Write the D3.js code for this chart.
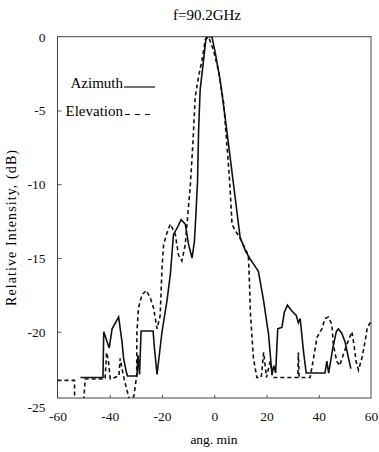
<!DOCTYPE html>
<html>
<head>
<meta charset="utf-8">
<script src="https://cdn.jsdelivr.net/npm/d3@7"></script>
<style>
  body { margin: 0; background: #fff; }
</style>
</head>
<body>
<svg id="chart" width="379" height="452"></svg>
<script>
// values (ang. min, dB)
const title = "f=90.2GHz";
const xTicks = [-60, -40, -20, 0, 20, 40, 60];
const yTicks = [0, -5, -10, -15, -20, -25];

const azX = [-51.2, -42.6, -42.3, -40.2, -39.1, -36.6, -35.3, -34.7, -33.7, -33.2,
  -29.6, -29.2, -28.6, -28.0, -23.4, -22.9, -21.9, -20.0, -18.1, -16.8,
  -15.6, -14.3, -12.7, -11.1, -9.8, -8.5, -7.6, -7.0, -6.4, -6.0,
  -5.4, -4.1, -3.1, -0.9, 0.4, 2.3, 4.2, 6.1, 8.0, 9.9,
  11.9, 13.5, 15.0, 16.9, 18.9, 20.8, 22.1, 22.8, 23.5, 24.3,
  25.9, 26.8, 28.0, 29.7, 31.4, 32.2, 32.9, 34.2, 35.2, 42.4,
  43.1, 43.8, 45.4, 46.7, 47.5, 48.8, 50.1, 51.4, 52.3];
const azY = [-23.1, -23.1, -20.0, -21.1, -19.8, -19.0, -20.7, -21.8, -22.7, -23.0,
  -23.0, -21.6, -22.9, -19.95, -19.95, -21.1, -22.9, -20.0, -17.9, -16.1,
  -13.4, -13.0, -12.4, -12.7, -14.1, -15.0, -13.9, -12.0, -9.8, -6.4,
  -3.6, -1.6, 0, 0, -1.1, -3.0, -5.5, -8.2, -10.9, -13.6,
  -14.5, -15.0, -15.4, -15.9, -17.9, -20.2, -22.9, -22.3, -22.8, -19.8,
  -19.7, -18.7, -18.2, -18.6, -18.9, -19.4, -19.1, -21.4, -22.8, -22.8,
  -22.0, -22.8, -21.1, -20.0, -19.8, -20.1, -20.7, -21.8, -22.5];

const elX = [-60, -53.5, -53.4, -50.3, -49.4, -41.8, -41.2, -40.5, -39.8, -36.5,
  -36.0, -35.3, -34.5, -32.5, -30.8, -29.7, -29.6, -29.0, -27.7, -26.0,
  -24.5, -23.2, -21.9, -20.7, -20.0, -19.4, -18.1, -16.8, -14.9, -13.7,
  -12.4, -11.1, -9.8, -9.2, -8.1, -7.3, -6.0, -4.7, -3.4, -2.2,
  -0.3, 1.6, 3.6, 5.1, 5.9, 6.4, 6.8, 7.6, 10.0, 12.5,
  13.1, 13.5, 13.8, 14.4, 15.0, 16.3, 18.0, 18.9, 20.0, 21.4,
  22.3, 32.0, 32.2, 32.5, 36.7, 38.0, 39.3, 41.2, 42.4, 43.7,
  45.0, 45.6, 46.9, 48.0, 49.5, 50.7, 52.7, 53.5, 54.3, 55.2,
  56.5, 57.7, 58.6, 60.0];
const elY = [-23.3, -23.3, -25.5, -25.5, -23.2, -23.2, -21.4, -22.0, -23.2, -23.0,
  -21.8, -22.5, -23.2, -24.6, -24.4, -23.0, -20.0, -18.4, -17.5, -17.2,
  -17.7, -18.4, -19.8, -18.9, -15.7, -14.1, -13.3, -12.7, -13.4, -14.8,
  -15.2, -14.1, -11.4, -10.2, -7.0, -4.1, -2.7, -1.6, -0.2, 0,
  -0.9, -2.3, -4.5, -7.9, -9.8, -11.4, -12.7, -13.0, -13.7, -14.6,
  -15.0, -16.8, -18.6, -20.2, -21.8, -23.1, -23.1, -21.4, -23.1, -22.0,
  -23.1, -23.1, -21.4, -23.1, -23.1, -21.8, -20.4, -19.8, -19.1, -19.0,
  -19.5, -20.9, -22.0, -22.3, -21.5, -20.9, -20.0, -20.9, -22.0, -22.6,
  -21.8, -20.7, -19.7, -19.3];

const font = '"Liberation Serif"';

const svg = d3.select("#chart");
const frame = { left: 57.5, right: 371, top: 36.7, bottom: 398 };

const x = d3.scaleLinear().domain([-60, 60]).range([frame.left, frame.right]);
const y = d3.scaleLinear().domain([-25, 0]).range([405.5, frame.top]);

// title
svg.append("text")
  .attr("x", 207)
  .attr("y", 20)
  .attr("text-anchor", "middle")
  .style("font-family", font)
  .style("font-size", "15px")
  .text(title);

// clip to the frame
svg.append("clipPath")
  .attr("id", "clip")
  .append("rect")
  .attr("x", frame.left)
  .attr("y", frame.top)
  .attr("width", frame.right - frame.left)
  .attr("height", frame.bottom - frame.top);

// y axis, ticks pointing in
const yAxis = svg.append("g")
  .attr("transform", `translate(${frame.left},0)`)
  .call(d3.axisLeft(y).tickValues(yTicks).tickSizeInner(-4).tickSizeOuter(0)
    .tickPadding(12).tickFormat(d => String(d)));
yAxis.select(".domain").remove();
yAxis.selectAll(".tick line")
  .attr("stroke", "#555")
  .style("display", d => (d === 0 || d === -25) ? "none" : null);
yAxis.selectAll(".tick text")
  .attr("fill", "#111")
  .style("font-family", font)
  .style("font-size", "13.5px")
  .attr("dy", d => d === -25 ? "0.45em" : "0.32em");

// x axis along the frame bottom
const xAxis = svg.append("g")
  .attr("transform", `translate(0,${frame.bottom})`)
  .call(d3.axisBottom(x).tickValues(xTicks).tickSizeInner(-3).tickSizeOuter(0)
    .tickPadding(13).tickFormat(d => String(d)));
xAxis.select(".domain").remove();
xAxis.selectAll(".tick line").attr("stroke", "#555")
  .style("display", d => (d === -60 || d === 60) ? "none" : null);
xAxis.selectAll(".tick text")
  .attr("fill", "#111")
  .style("font-family", font)
  .style("font-size", "13.5px");

// frame
svg.append("rect")
  .attr("x", frame.left)
  .attr("y", frame.top)
  .attr("width", frame.right - frame.left)
  .attr("height", frame.bottom - frame.top)
  .attr("fill", "none")
  .attr("stroke", "#444")
  .attr("stroke-width", 1);

// axis titles
svg.append("text")
  .attr("x", 214)
  .attr("y", 444)
  .attr("text-anchor", "middle")
  .style("font-family", font)
  .style("font-size", "13.5px")
  .text("ang. min");

svg.append("text")
  .attr("transform", "translate(16,228) rotate(-90)")
  .attr("text-anchor", "middle")
  .style("font-family", font)
  .style("font-size", "14px")
  .attr("textLength", 156)
  .text("Relative Intensity, (dB)");

// curves
const line = d3.line().x(d => x(d[0])).y(d => y(d[1]));
const plot = svg.append("g").attr("clip-path", "url(#clip)");

plot.append("path")
  .attr("d", line(elX.map((v, i) => [v, elY[i]])))
  .attr("fill", "none")
  .attr("stroke", "#111")
  .attr("stroke-width", 1.6)
  .attr("stroke-dasharray", "4,3");

plot.append("path")
  .attr("d", line(azX.map((v, i) => [v, azY[i]])))
  .attr("fill", "none")
  .attr("stroke", "#111")
  .attr("stroke-width", 1.6);

// legend
svg.append("text")
  .attr("x", 123)
  .attr("y", 88)
  .attr("text-anchor", "end")
  .style("font-family", font)
  .style("font-size", "15px")
  .text("Azimuth");
svg.append("line")
  .attr("x1", 124).attr("x2", 155)
  .attr("y1", 87).attr("y2", 87)
  .attr("stroke", "#111")
  .attr("stroke-width", 1.2);

svg.append("text")
  .attr("x", 123)
  .attr("y", 116)
  .attr("text-anchor", "end")
  .style("font-family", font)
  .style("font-size", "15px")
  .text("Elevation");
svg.append("line")
  .attr("x1", 125).attr("x2", 155)
  .attr("y1", 114.5).attr("y2", 114.5)
  .attr("stroke", "#111")
  .attr("stroke-width", 1.2)
  .attr("stroke-dasharray", "5,5");
</script>
</body>
</html>
